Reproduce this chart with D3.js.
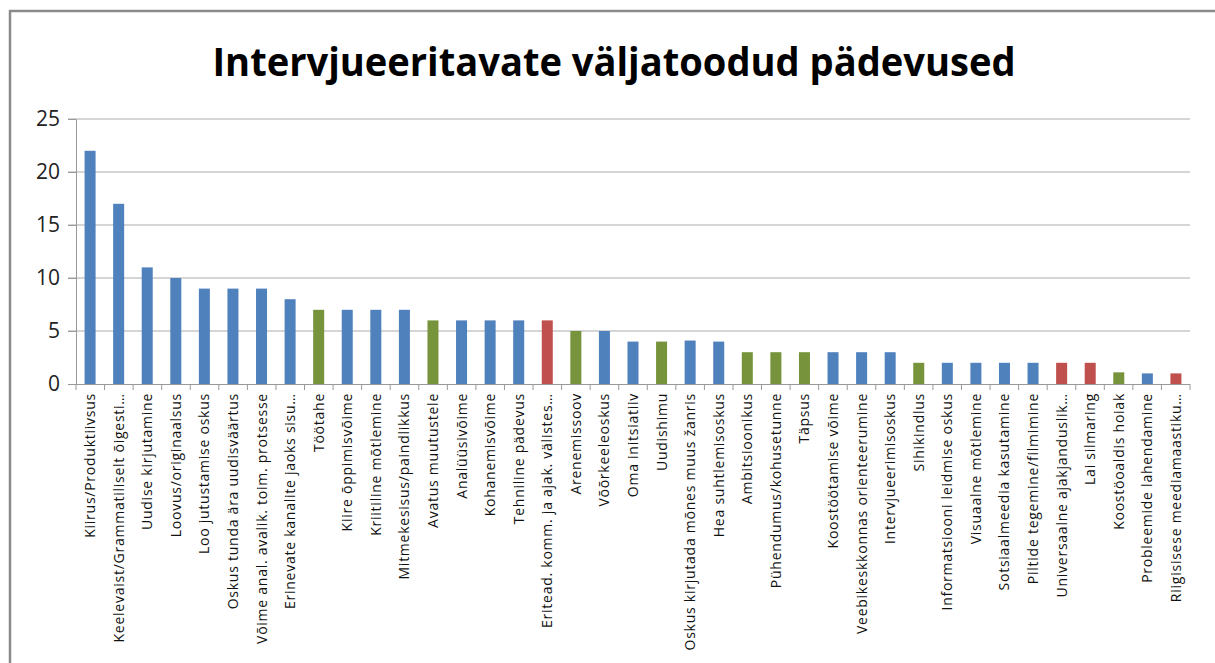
<!DOCTYPE html>
<html lang="et">
<head>
<meta charset="utf-8">
<title>Intervjueeritavate väljatoodud pädevused</title>
<script src="https://d3js.org/d3.v7.min.js"></script>
<style>
  body { margin: 0; background: #fff; }
  svg { display: block; }
  .title { font: bold 40px "Open Sans", "Liberation Sans", sans-serif; }
  .ytick { font: 21px "Open Sans", "Liberation Sans", sans-serif; fill: #222; }
  .xlab { font: 14px "Open Sans", "Liberation Sans", sans-serif; fill: #111; letter-spacing: 0.75px; }
</style>
</head>
<body>
<svg id="chart" width="1215" height="663"></svg>
<script>
// competences named by interviewees
var categories = [
  "Kiirus/Produktiivsus", "Keelevaist/Grammatiliselt õigesti…", "Uudise kirjutamine",
  "Loovus/originaalsus", "Loo jutustamise oskus", "Oskus tunda ära uudisväärtus",
  "Võime anal. avalik. toim. protsesse", "Erinevate kanalite jaoks sisu…", "Töötahe",
  "Kiire õppimisvõime", "Kriitiline mõtlemine", "Mitmekesisus/paindlikkus",
  "Avatus muutustele", "Analüüsivõime", "Kohanemisvõime", "Tehniline pädevus",
  "Eritead. komm. ja ajak. välistes…", "Arenemissoov", "Võõrkeeleoskus",
  "Oma initsiatiiv", "Uudishimu", "Oskus kirjutada mõnes muus žanris",
  "Hea suhtlemisoskus", "Ambitsioonikus", "Pühendumus/kohusetunne", "Täpsus",
  "Koostöötamise võime", "Veebikeskkonnas orienteerumine", "Intervjueerimisoskus",
  "Sihikindlus", "Informatsiooni leidmise oskus", "Visuaalne mõtlemine",
  "Sotsiaalmeedia kasutamine", "Piltide tegemine/filmimine",
  "Universaalne ajakjanduslik…", "Lai silmaring", "Koostöoaldis hoiak",
  "Probleemide lahendamine", "Riigisisese meediamaastiku…"
];
var values = [
  22, 17, 11, 10, 9, 9, 9, 8, 7, 7, 7, 7, 6, 6, 6, 6, 6, 5, 5,
  4, 4, 4.1, 4, 3, 3, 3, 3, 3, 3, 2, 2, 2, 2, 2, 2, 2, 1.1, 1, 1
];
// b = blue, g = green, r = red
var groups = [
  "b","b","b","b","b","b","b","b","g","b","b","b","g","b","b","b","r","g","b",
  "b","g","b","b","g","g","g","b","b","b","g","b","b","b","b","r","r","g","b","r"
];
var yTicks = [0, 5, 10, 15, 20, 25];

var colors = { b: "#4f81bd", g: "#77933c", r: "#c0504d" };

var svg = d3.select("#chart");
var plotLeft = 76, plotRight = 1190, plotTop = 119, plotBottom = 384;

// outer chart border (only left and top are inside the window)
svg.append("rect")
    .attr("x", 10).attr("y", 11)
    .attr("width", 1300).attr("height", 800)
    .attr("fill", "none").attr("stroke", "#8a8a8a").attr("stroke-width", 2.5);

svg.append("text")
    .attr("class", "title")
    .attr("x", 614).attr("y", 76)
    .attr("text-anchor", "middle")
    .attr("textLength", 803).attr("lengthAdjust", "spacingAndGlyphs")
    .text("Intervjueeritavate väljatoodud pädevused");

var x = d3.scaleBand()
    .domain(categories)
    .range([plotLeft, plotRight])
    .paddingInner(0.615).paddingOuter(0.3);

var y = d3.scaleLinear().domain([0, 25]).range([plotBottom, plotTop]);

// gridlines
svg.append("g").selectAll("line")
  .data(yTicks.filter(function(d) { return d > 0; }))
  .enter().append("line")
    .attr("x1", plotLeft - 8).attr("x2", plotRight)
    .attr("y1", function(d) { return y(d); })
    .attr("y2", function(d) { return y(d); })
    .attr("stroke", "#ababab").attr("stroke-width", 1);

// y axis
var yAxis = svg.append("g")
    .attr("transform", "translate(" + plotLeft + ",0)")
    .call(d3.axisLeft(y).tickValues(yTicks).tickSize(8).tickPadding(8));
yAxis.attr("font-family", null).attr("font-size", null);
yAxis.select(".domain").attr("stroke", "#999");
yAxis.selectAll(".tick line").attr("stroke", "#999");
yAxis.selectAll("text").attr("class", "ytick").attr("fill", null);

// bars
svg.append("g").selectAll("rect")
  .data(categories)
  .enter().append("rect")
    .attr("x", function(d) { return x(d); })
    .attr("width", x.bandwidth())
    .attr("y", function(d, i) { return y(values[i]); })
    .attr("height", function(d, i) { return plotBottom - y(values[i]); })
    .attr("fill", function(d, i) { return colors[groups[i]]; });

// x axis line and tick marks between categories
var step = (plotRight - plotLeft) / categories.length;
svg.append("line")
    .attr("x1", plotLeft).attr("x2", plotRight)
    .attr("y1", plotBottom + 0.5).attr("y2", plotBottom + 0.5)
    .attr("stroke", "#999");
svg.append("g").selectAll("line")
  .data(d3.range(categories.length + 1))
  .enter().append("line")
    .attr("x1", function(i) { return plotLeft + i * step; })
    .attr("x2", function(i) { return plotLeft + i * step; })
    .attr("y1", plotBottom).attr("y2", plotBottom + 6)
    .attr("stroke", "#999");

// rotated category labels
svg.append("g").selectAll("text")
  .data(categories)
  .enter().append("text")
    .attr("class", "xlab")
    .attr("text-anchor", "end")
    .attr("transform", function(d) {
      return "translate(" + (x(d) + x.bandwidth() / 2 + 5) + "," + (plotBottom + 9) + ") rotate(-90)";
    })
    .text(function(d) { return d; });
</script>
</body>
</html>
